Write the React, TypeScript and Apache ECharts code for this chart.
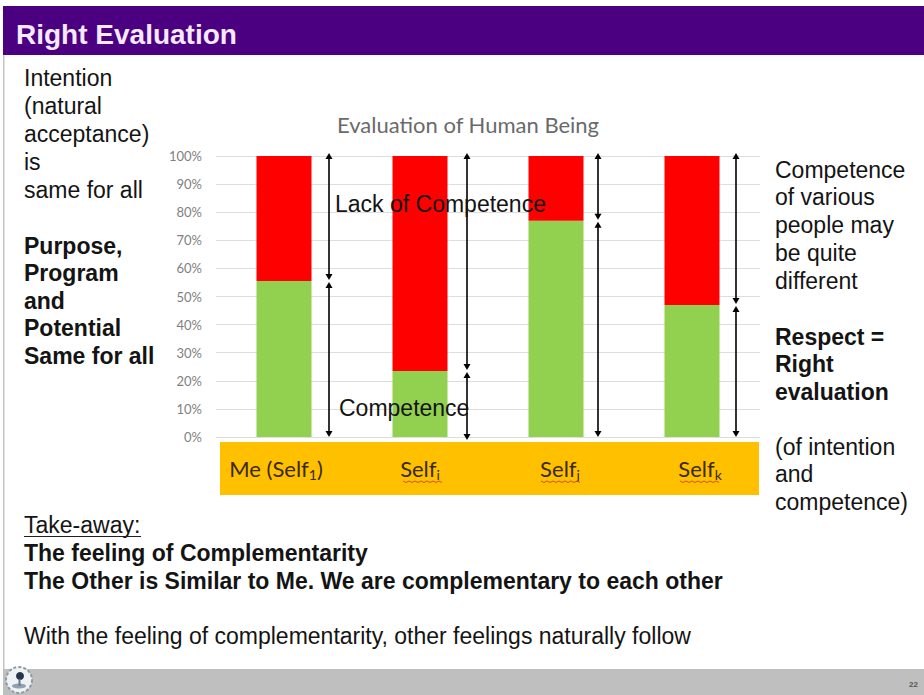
import React, { useEffect, useRef } from "react";
import * as echarts from "echarts";

const categories = ["Me (Self{sub|1}{gap|)}", "Self{sub|i}", "{padJ|S}elf{sub|j}", "{padK|S}elf{sub|k}"];
const competence = [55.5, 23.5, 77, 47];
const lack = [44.5, 76.5, 23, 53];
const arrowOffsets = [45, 47, 42, 44];
const chartTitle = "Evaluation of Human Being";
const slideTitle = "Right Evaluation";
const pageNumber = "22";

const leftLines: [string, number, boolean][] = [
  ["Intention", 78, false],
  ["(natural", 106, false],
  ["acceptance)", 134, false],
  ["is", 162, false],
  ["same for all", 190, false],
  ["Purpose,", 246, true],
  ["Program", 273, true],
  ["and", 301, true],
  ["Potential", 328, true],
  ["Same for all", 356, true],
];
const rightLines: [string, number, boolean][] = [
  ["Competence", 170, false],
  ["of various", 197, false],
  ["people may", 225, false],
  ["be quite", 253, false],
  ["different", 281, false],
  ["Respect =", 337, true],
  ["Right", 364, true],
  ["evaluation", 392, true],
  ["(of intention", 447, false],
  ["and", 474, false],
  ["competence)", 502, false],
];
const bottomLines: [string, number, boolean][] = [
  ["Take-away:", 525, false],
  ["The feeling of Complementarity", 553, true],
  ["The Other is Similar to Me. We are complementary to each other", 581, true],
  ["With the feeling of complementarity, other feelings naturally follow", 636, false],
];

const SANS = "'Liberation Sans', Arial, sans-serif";

const txt = (text: string, x: number, y: number, bold: boolean, extra: any = {}) => ({
  type: "text",
  x,
  y,
  z: 100,
  style: {
    text,
    fill: "#141414",
    font: `${bold ? "bold " : ""}23px ${SANS}`,
    verticalAlign: "middle",
    ...extra,
  },
});

const wave = (x0: number, y: number) => {
  const pts: number[][] = [];
  for (let i = 0; i <= 13; i++) pts.push([x0 + i * 3, y + (i % 2 ? 1.5 : 0)]);
  return {
    type: "polyline",
    z: 50,
    shape: { points: pts },
    style: { stroke: "#d0502a", lineWidth: 1, fill: "none" },
  };
};

const arrowHead = (x: number, tip: number, dir: number) => ({
  type: "polygon",
  shape: { points: [[x, tip], [x - 3.5, tip + dir * 6], [x + 3.5, tip + dir * 6]] },
  style: { fill: "#000" },
});

export default function App() {
  const ref = useRef<HTMLDivElement>(null);
  useEffect(() => {
    const chart = echarts.init(ref.current!, undefined, { renderer: "svg" });
    const labelStyle = { fontFamily: "Lato", fontSize: 22, color: "#3a2a10" };
    chart.setOption({
      animation: false,
      backgroundColor: "#fff",
      title: {
        text: chartTitle,
        left: 337,
        top: 113,
        padding: 0,
        textStyle: { fontFamily: "Lato", fontSize: 22, fontWeight: "normal", color: "#6a6a6a" },
      },
      grid: { left: 216, top: 156, width: 544, height: 281 },
      xAxis: {
        type: "category",
        data: categories,
        axisLine: { show: false },
        axisTick: { show: false },
        axisLabel: {
          interval: 0,
          margin: 18,
          ...labelStyle,
          rich: {
            sub: { fontFamily: "Lato", fontSize: 14, color: "#3a2a10", verticalAlign: "bottom", padding: [12, 0, 0, 0] },
            gap: { ...labelStyle, padding: [0, 16, 0, 0] },
            padJ: { ...labelStyle, padding: [0, 0, 0, 8] },
            padK: { ...labelStyle, padding: [0, 0, 0, 16] },
          },
        },
        z: 10,
      },
      yAxis: {
        type: "value",
        min: 0,
        max: 100,
        interval: 10,
        axisLine: { show: false },
        axisTick: { show: false },
        axisLabel: {
          formatter: "{value}%",
          fontFamily: "Lato",
          fontSize: 13,
          color: "#7f7f7f",
          margin: 14,
        },
        splitLine: { lineStyle: { color: "#dedede", width: 1 } },
      },
      series: [
        {
          name: "Competence",
          type: "bar",
          stack: "total",
          barWidth: 55,
          data: competence,
          itemStyle: { color: "#92d050" },
        },
        {
          name: "Lack of Competence",
          type: "bar",
          stack: "total",
          barWidth: 55,
          data: lack,
          itemStyle: { color: "#ff0000" },
        },
        {
          name: "Arrows",
          type: "custom",
          z: 20,
          data: competence.map((v, i) => [i, v]),
          renderItem: (params: any, api: any) => {
            const i = api.value(0);
            const v = api.value(1);
            const x = api.coord([i, v])[0] + arrowOffsets[params.dataIndex];
            const yMid = api.coord([i, v])[1];
            const yTop = api.coord([i, 100])[1] - 3;
            const yBot = api.coord([i, 0])[1] + (params.dataIndex === 1 ? 3 : 0);
            const line = (y1: number, y2: number) => ({
              type: "line",
              shape: { x1: x, y1, x2: x, y2 },
              style: { stroke: "#000", lineWidth: 1.6 },
            });
            return {
              type: "group",
              children: [
                line(yTop + 5, yMid - 6),
                line(yMid + 6, yBot - 5),
                arrowHead(x, yTop, 1),
                arrowHead(x, yMid - 1, -1),
                arrowHead(x, yMid + 1, 1),
                arrowHead(x, yBot, -1),
              ],
            };
          },
        },
      ],
      graphic: [
        { type: "rect", z: 0, shape: { x: 3, y: 6, width: 921, height: 49 }, style: { fill: "#4b0082" } },
        { type: "rect", z: 0, shape: { x: 3, y: 55, width: 1.5, height: 614 }, style: { fill: "#c4c4c4" } },
        { type: "rect", z: 0, shape: { x: 3, y: 669, width: 921, height: 26 }, style: { fill: "#bfbfbf" } },
        { type: "rect", z: 0, shape: { x: 220, y: 442, width: 539, height: 53 }, style: { fill: "#ffc000" } },
        wave(403, 481),
        wave(541, 481),
        wave(680, 481),
        {
          type: "text",
          x: 16,
          y: 34,
          z: 100,
          style: { text: slideTitle, fill: "#f6e9fb", font: `bold 28px ${SANS}`, verticalAlign: "middle" },
        },
        ...leftLines.map(([t, y, b]) => txt(t, 24, y, b)),
        ...rightLines.map(([t, y, b]) => txt(t, 775, y, b)),
        ...bottomLines.map(([t, y, b]) => txt(t, 24, y, b)),
        { type: "rect", z: 100, shape: { x: 24, y: 536, width: 117, height: 1 }, style: { fill: "#1f1f1f" } },
        txt("Lack of Competence", 335, 204, false),
        txt("Competence", 339, 408, false),
        {
          type: "text",
          x: 909,
          y: 684,
          z: 100,
          style: { text: pageNumber, fill: "#555", font: `bold 8px ${SANS}`, verticalAlign: "middle" },
        },
        { type: "circle", z: 60, shape: { cx: 19, cy: 680, r: 13 }, style: { fill: "#eef2f5", stroke: "#8d9aa6", lineWidth: 2, lineDash: [3, 2] } },
        { type: "circle", z: 61, shape: { cx: 20, cy: 676, r: 4 }, style: { fill: "#25364a" } },
        { type: "ellipse", z: 61, shape: { cx: 19, cy: 686, rx: 7, ry: 2.5 }, style: { fill: "#8fa0ae" } },
        { type: "rect", z: 61, shape: { x: 18.5, y: 679, width: 2, height: 7 }, style: { fill: "#6a7a8a" } },
      ],
    });
    return () => chart.dispose();
  }, []);
  return (
    <div
      ref={ref}
      style={{ position: "fixed", left: 0, top: 0, width: 924, height: 695 }}
    />
  );
}
